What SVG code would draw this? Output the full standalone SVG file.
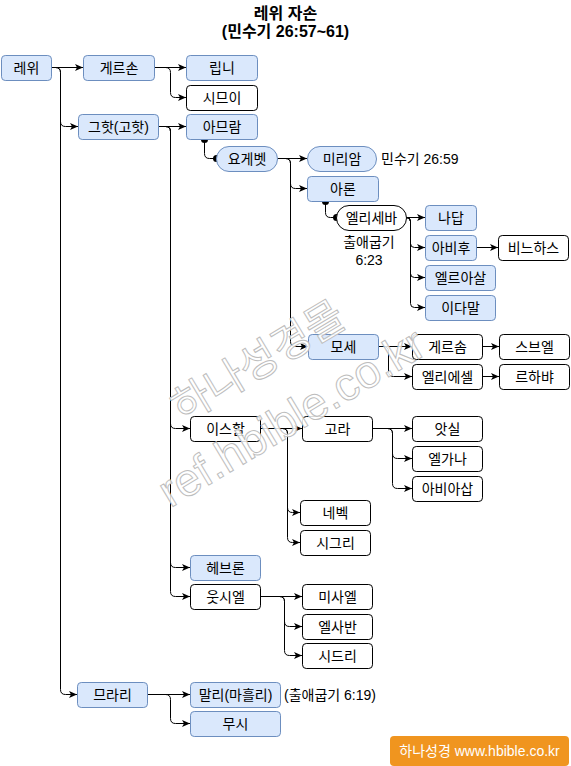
<svg xmlns="http://www.w3.org/2000/svg" width="571" height="766" viewBox="0 0 571 766">
<style>
.b{fill:#dae8fc;stroke:#6c8ebf;stroke-width:1}
.w{fill:#fff;stroke:#000;stroke-width:1}
.t{font-family:"Liberation Sans","Noto Sans CJK KR",sans-serif;font-size:14px;fill:#000;text-anchor:middle;dominant-baseline:central}
.l{font-family:"Liberation Sans","Noto Sans CJK KR",sans-serif;font-size:14px;fill:#000;dominant-baseline:central}
.h{font-family:"Liberation Sans","Noto Sans CJK KR",sans-serif;font-size:16px;font-weight:bold;fill:#000;text-anchor:middle}
.e{fill:none;stroke:#000;stroke-width:1}
.a{marker-end:url(#arr)}
.d{marker-start:url(#dot);marker-end:url(#dot)}
.wm{font-family:"Liberation Sans","Noto Sans CJK KR",sans-serif;fill:#fff;fill-opacity:0.85;stroke:#bdbdbd;stroke-width:1;text-anchor:middle}
</style>
<defs>
<marker id="arr" markerUnits="userSpaceOnUse" markerWidth="9" markerHeight="8" refX="8" refY="4" orient="auto">
<path d="M0,0.5 L8,4 L0,7.5 L2,4 Z" fill="#000"/>
</marker>
<marker id="dot" markerUnits="userSpaceOnUse" markerWidth="8" markerHeight="8" refX="4" refY="4" orient="auto">
<circle cx="4" cy="4" r="3.5" fill="#000"/>
</marker>
</defs>

<g id="title">
<text class="h" x="285.5" y="19">레위 자손</text>
<text class="h" x="285.5" y="37">(민수기 26:57~61)</text>
</g>

<g id="connectors">
<path class="e a" d="M51.5 67.5 H83"/>
<path class="e a" d="M51.5 67.5 H55.5 Q60.5 67.5 60.5 72.5 V121.5 Q60.5 126.5 65.5 126.5 H78"/>
<path class="e a" d="M51.5 67.5 H55.5 Q60.5 67.5 60.5 72.5 V689.5 Q60.5 694.5 65.5 694.5 H77"/>
<path class="e a" d="M154.5 67.5 H186"/>
<path class="e a" d="M154.5 67.5 H165.5 Q170.5 67.5 170.5 72.5 V92.5 Q170.5 97.5 175.5 97.5 H186"/>
<path class="e a" d="M158.5 126.5 H186"/>
<path class="e a" d="M158.5 126.5 H165.5 Q170.5 126.5 170.5 131.5 V423.5 Q170.5 428.5 175.5 428.5 H190"/>
<path class="e a" d="M158.5 126.5 H165.5 Q170.5 126.5 170.5 131.5 V562.5 Q170.5 567.5 175.5 567.5 H190"/>
<path class="e a" d="M158.5 126.5 H165.5 Q170.5 126.5 170.5 131.5 V591.5 Q170.5 596.5 175.5 596.5 H190"/>
<path class="e d" d="M204.5 139.5 V153.5 Q204.5 158.5 209.5 158.5 H216.5"/>
<path class="e a" d="M277.5 158.5 H307"/>
<path class="e a" d="M277.5 158.5 H285.5 Q290.5 158.5 290.5 163.5 V183.5 Q290.5 188.5 295.5 188.5 H307"/>
<path class="e a" d="M277.5 158.5 H285.5 Q290.5 158.5 290.5 163.5 V341.5 Q290.5 346.5 295.5 346.5 H308"/>
<path class="e d" d="M325.5 201.5 V212.5 Q325.5 217.5 330.5 217.5 H336.5"/>
<path class="e a" d="M406.5 217.5 H425"/>
<path class="e a" d="M406.5 217.5 Q410.5 217.5 410.5 221.5 V243.5 Q410.5 247.5 414.5 247.5 H425"/>
<path class="e a" d="M406.5 217.5 Q410.5 217.5 410.5 221.5 V273.5 Q410.5 277.5 414.5 277.5 H425"/>
<path class="e a" d="M406.5 217.5 Q410.5 217.5 410.5 221.5 V303.5 Q410.5 307.5 414.5 307.5 H425"/>
<path class="e a" d="M476.5 247.5 H498"/>
<path class="e a" d="M378.5 346.5 H412"/>
<path class="e a" d="M378.5 346.5 H383.5 Q388.5 346.5 388.5 351.5 V371.5 Q388.5 376.5 393.5 376.5 H412"/>
<path class="e a" d="M482.5 346.5 H499"/>
<path class="e a" d="M482.5 376.5 H499"/>
<path class="e a" d="M260.5 428.5 H302"/>
<path class="e a" d="M260.5 428.5 H282.5 Q287.5 428.5 287.5 433.5 V507.5 Q287.5 512.5 292.5 512.5 H300"/>
<path class="e a" d="M260.5 428.5 H282.5 Q287.5 428.5 287.5 433.5 V537.5 Q287.5 542.5 292.5 542.5 H300"/>
<path class="e a" d="M372.5 428.5 H412"/>
<path class="e a" d="M372.5 428.5 H387.5 Q392.5 428.5 392.5 433.5 V453.5 Q392.5 458.5 397.5 458.5 H412"/>
<path class="e a" d="M372.5 428.5 H387.5 Q392.5 428.5 392.5 433.5 V483.5 Q392.5 488.5 397.5 488.5 H412"/>
<path class="e a" d="M260.5 596.5 H302"/>
<path class="e a" d="M260.5 596.5 H279.5 Q284.5 596.5 284.5 601.5 V621.5 Q284.5 626.5 289.5 626.5 H302"/>
<path class="e a" d="M260.5 596.5 H279.5 Q284.5 596.5 284.5 601.5 V650.5 Q284.5 655.5 289.5 655.5 H302"/>
<path class="e a" d="M147.5 694.5 H190"/>
<path class="e a" d="M147.5 694.5 H165.5 Q170.5 694.5 170.5 699.5 V718.5 Q170.5 723.5 175.5 723.5 H190"/>
</g>

<g id="n-levi"><rect class="b" x="1.5" y="55.5" width="50" height="25" rx="3.75"/><text class="t" x="26.5" y="68">레위</text></g>
<g id="n-gershon"><rect class="b" x="83.5" y="55.5" width="71" height="25" rx="3.75"/><text class="t" x="119" y="68">게르손</text></g>
<g id="n-libni"><rect class="b" x="186.5" y="55.5" width="71" height="25" rx="3.75"/><text class="t" x="222" y="68">립니</text></g>
<g id="n-shimei"><rect class="w" x="186.5" y="85.5" width="71" height="25" rx="3.75"/><text class="t" x="222" y="98">시므이</text></g>
<g id="n-kohath"><rect class="b" x="78.5" y="114.5" width="80" height="25" rx="3.75"/><text class="t" x="118.5" y="127">그핫(고핫)</text></g>
<g id="n-amram"><rect class="b" x="186.5" y="114.5" width="71" height="25" rx="3.75"/><text class="t" x="222" y="127">아므람</text></g>
<g id="n-jochebed"><rect class="b" x="216.5" y="146.5" width="61" height="25" rx="12.5"/><text class="t" x="247" y="159">요게벳</text></g>
<g id="n-miriam"><rect class="b" x="307.5" y="146.5" width="69" height="25" rx="12.5"/><text class="t" x="342" y="159">미리암</text></g>
<g id="l-miriam"><text class="l" x="381" y="159">민수기 26:59</text></g>
<g id="n-aaron"><rect class="b" x="307.5" y="176.5" width="71" height="25" rx="3.75"/><text class="t" x="343" y="189">아론</text></g>
<g id="n-elisheba"><rect class="w" x="336.5" y="205.5" width="70" height="25" rx="12.5"/><text class="t" x="371.5" y="218">엘리세바</text></g>
<g id="l-elisheba"><text class="t" x="369" y="242">출애굽기</text><text class="t" x="369" y="260">6:23</text></g>
<g id="n-nadab"><rect class="b" x="425.5" y="205.5" width="51" height="25" rx="3.75"/><text class="t" x="451" y="218">나답</text></g>
<g id="n-abihu"><rect class="b" x="425.5" y="235.5" width="51" height="25" rx="3.75"/><text class="t" x="451" y="248">아비후</text></g>
<g id="n-phinehas"><rect class="w" x="498.5" y="235.5" width="70" height="25" rx="3.75"/><text class="t" x="533.5" y="248">비느하스</text></g>
<g id="n-eleazar"><rect class="b" x="425.5" y="265.5" width="70" height="25" rx="3.75"/><text class="t" x="460.5" y="278">엘르아살</text></g>
<g id="n-ithamar"><rect class="b" x="425.5" y="295.5" width="70" height="25" rx="3.75"/><text class="t" x="460.5" y="308">이다말</text></g>
<g id="n-moses"><rect class="b" x="308.5" y="334.5" width="70" height="25" rx="3.75"/><text class="t" x="343.5" y="347">모세</text></g>
<g id="n-gershom"><rect class="w" x="412.5" y="334.5" width="70" height="25" rx="3.75"/><text class="t" x="447.5" y="347">게르솜</text></g>
<g id="n-shebuel"><rect class="w" x="499.5" y="334.5" width="70" height="25" rx="3.75"/><text class="t" x="534.5" y="347">스브엘</text></g>
<g id="n-eliezer"><rect class="w" x="412.5" y="364.5" width="70" height="25" rx="3.75"/><text class="t" x="447.5" y="377">엘리에셀</text></g>
<g id="n-rehabiah"><rect class="w" x="499.5" y="364.5" width="70" height="25" rx="3.75"/><text class="t" x="534.5" y="377">르하뱌</text></g>
<g id="n-izhar"><rect class="w" x="190.5" y="416.5" width="70" height="25" rx="3.75"/><text class="t" x="225.5" y="429">이스할</text></g>
<g id="n-korah"><rect class="w" x="302.5" y="416.5" width="70" height="25" rx="3.75"/><text class="t" x="337.5" y="429">고라</text></g>
<g id="n-assir"><rect class="w" x="412.5" y="416.5" width="70" height="25" rx="3.75"/><text class="t" x="447.5" y="429">앗실</text></g>
<g id="n-elkanah"><rect class="w" x="412.5" y="446.5" width="70" height="25" rx="3.75"/><text class="t" x="447.5" y="459">엘가나</text></g>
<g id="n-abiasaph"><rect class="w" x="412.5" y="476.5" width="70" height="25" rx="3.75"/><text class="t" x="447.5" y="489">아비아삽</text></g>
<g id="n-nepheg"><rect class="w" x="300.5" y="500.5" width="70" height="25" rx="3.75"/><text class="t" x="335.5" y="513">네벡</text></g>
<g id="n-zichri"><rect class="w" x="300.5" y="530.5" width="70" height="25" rx="3.75"/><text class="t" x="335.5" y="543">시그리</text></g>
<g id="n-hebron"><rect class="b" x="190.5" y="555.5" width="70" height="25" rx="3.75"/><text class="t" x="225.5" y="568">헤브론</text></g>
<g id="n-uzziel"><rect class="w" x="190.5" y="584.5" width="70" height="25" rx="3.75"/><text class="t" x="225.5" y="597">웃시엘</text></g>
<g id="n-mishael"><rect class="w" x="302.5" y="584.5" width="70" height="25" rx="3.75"/><text class="t" x="337.5" y="597">미사엘</text></g>
<g id="n-elzaphan"><rect class="w" x="302.5" y="614.5" width="70" height="25" rx="3.75"/><text class="t" x="337.5" y="627">엘사반</text></g>
<g id="n-sithri"><rect class="w" x="302.5" y="643.5" width="70" height="25" rx="3.75"/><text class="t" x="337.5" y="656">시드리</text></g>
<g id="n-merari"><rect class="b" x="77.5" y="682.5" width="70" height="25" rx="3.75"/><text class="t" x="112.5" y="695">므라리</text></g>
<g id="n-mahli"><rect class="b" x="190.5" y="682.5" width="90" height="25" rx="3.75"/><text class="t" x="235.5" y="695">말리(마흘리)</text></g>
<g id="l-mahli"><text class="l" x="284" y="695">(출애굽기 6:19)</text></g>
<g id="n-mushi"><rect class="b" x="190.5" y="711.5" width="90" height="25" rx="3.75"/><text class="t" x="235.5" y="724">무시</text></g>

<g id="watermark" transform="translate(280 398) rotate(-31)">
<text class="wm" x="0" y="-28" font-size="42">하나성경몰</text>
<text class="wm" x="0" y="38" font-size="46">ref.hbible.co.kr</text>
</g>

<g id="badge">
<rect x="390" y="736" width="179" height="30" rx="4" fill="#f0951f"/>
<text x="479.5" y="751" font-family="'Liberation Sans','Noto Sans CJK KR',sans-serif" font-size="14" fill="#fff" text-anchor="middle" dominant-baseline="central">하나성경 www.hbible.co.kr</text>
</g>
</svg>
